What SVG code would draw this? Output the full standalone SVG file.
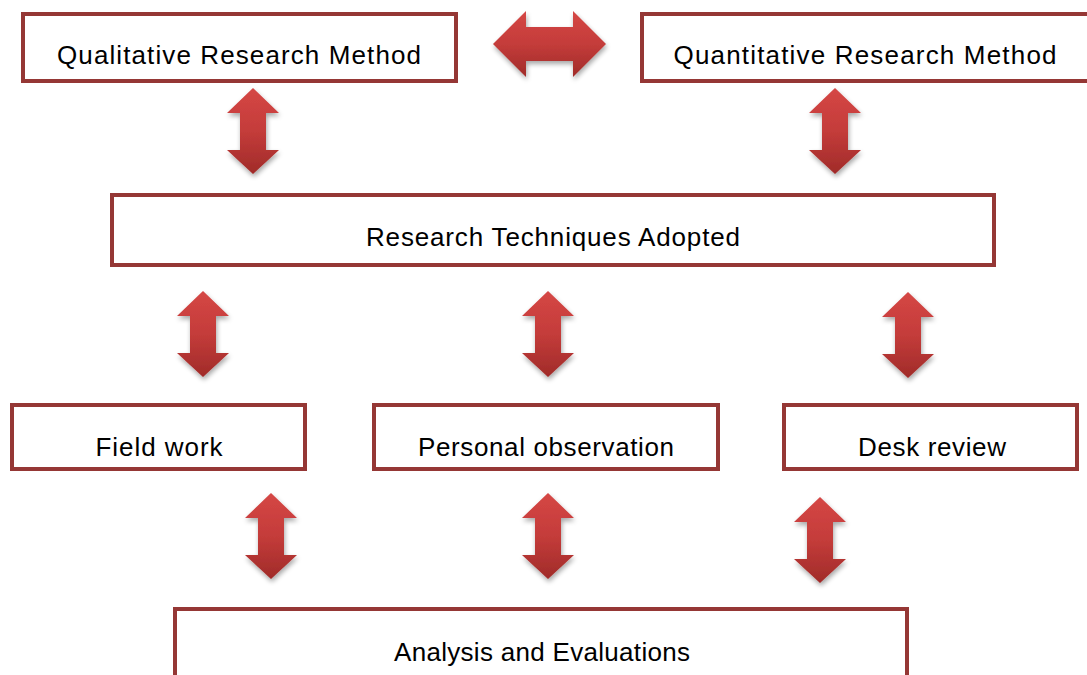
<svg xmlns="http://www.w3.org/2000/svg" xmlns:xlink="http://www.w3.org/1999/xlink" width="1087" height="675" viewBox="0 0 1087 675">
<style>
.box{fill:#fff;stroke:#953735;stroke-width:4}
.lbl{font-family:"Comic Sans MS","Liberation Sans","DejaVu Sans",sans-serif;font-size:26px;fill:#000;text-anchor:middle}
.arr{fill:url(#g);filter:url(#sh)}
.harr{fill:url(#gh);filter:url(#sh)}
</style>
<defs>
<linearGradient id="g" x1="0" y1="0" x2="0" y2="1">
<stop offset="0" stop-color="#d54745"/>
<stop offset="0.5" stop-color="#c43c3a"/>
<stop offset="1" stop-color="#a02b29"/>
</linearGradient>
<linearGradient id="gh" x1="0" y1="0" x2="0" y2="1">
<stop offset="0" stop-color="#d54745"/>
<stop offset="0.5" stop-color="#c43c3a"/>
<stop offset="1" stop-color="#a02b29"/>
</linearGradient>
<filter id="sh" x="-30%" y="-20%" width="160%" height="150%">
<feGaussianBlur in="SourceAlpha" stdDeviation="2.5"/>
<feOffset dx="1" dy="3" result="b"/>
<feComponentTransfer><feFuncA type="linear" slope="0.35"/></feComponentTransfer>
<feMerge><feMergeNode/><feMergeNode in="SourceGraphic"/></feMerge>
</filter>
<path id="va" d="M0,0 L26,25 L13,25 L13,62 L26,62 L0,86 L-26,62 L-13,62 L-13,25 L-26,25 Z"/>
</defs>
<g id="connectors">
<path class="harr" d="M493,44 L526,11 L526,27 L573,27 L573,11 L606,44 L573,77 L573,61 L526,61 L526,77 Z"/>
<use class="arr" href="#va" x="253" y="88"/>
<use class="arr" href="#va" x="835" y="88"/>
<use class="arr" href="#va" x="203" y="291"/>
<use class="arr" href="#va" x="548" y="291"/>
<use class="arr" href="#va" x="908" y="292"/>
<use class="arr" href="#va" x="271" y="493"/>
<use class="arr" href="#va" x="548" y="493"/>
<use class="arr" href="#va" x="820" y="497"/>
</g>
<g id="qual"><rect class="box" x="23" y="14" width="433" height="67"/><text class="lbl" x="239" y="64" textLength="364" lengthAdjust="spacing">Qualitative Research Method</text></g>
<g id="quant"><rect class="box" x="642" y="14" width="450" height="67"/><text class="lbl" x="865" y="64" textLength="383" lengthAdjust="spacing">Quantitative Research Method</text></g>
<g id="tech"><rect class="box" x="112" y="195" width="882" height="70"/><text class="lbl" x="553" y="246" textLength="374" lengthAdjust="spacing">Research Techniques Adopted</text></g>
<g id="field"><rect class="box" x="12" y="405" width="293" height="64"/><text class="lbl" x="159" y="456" textLength="127" lengthAdjust="spacing">Field work</text></g>
<g id="obs"><rect class="box" x="374" y="405" width="344" height="64"/><text class="lbl" x="546" y="456" textLength="256" lengthAdjust="spacing">Personal observation</text></g>
<g id="desk"><rect class="box" x="784" y="405" width="293" height="64"/><text class="lbl" x="932" y="456" textLength="148" lengthAdjust="spacing">Desk review</text></g>
<g id="analysis"><rect class="box" x="175" y="609" width="732" height="80"/><text class="lbl" x="542" y="661" textLength="296" lengthAdjust="spacing">Analysis and Evaluations</text></g>
</svg>
